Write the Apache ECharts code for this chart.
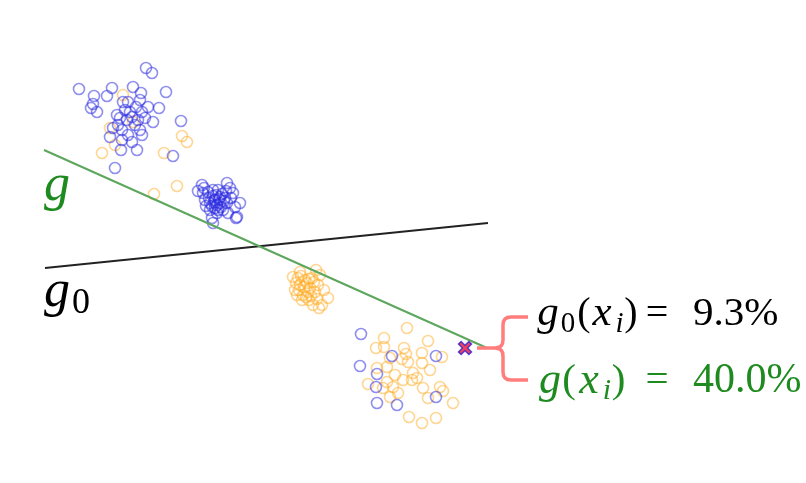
<!DOCTYPE html>
<html>
<head>
<meta charset="utf-8">
<script src="https://cdn.jsdelivr.net/npm/echarts@6/dist/echarts.min.js"></script>
<style>
  html, body { margin: 0; padding: 0; background: #fff; }
  #chart { width: 806px; height: 483px; }
</style>
</head>
<body>
<div id="chart"></div>
<script>
// points are kept in the picture's own frame: x to the right, y downward
const BLUE_PTS = [
  [79,89],[146,68],[152,73],[112,88],[133,87],[94,96],[107,96],[141,93],[166,92],
  [91,108],[93,104],[97,112],[123,102],[128,102],[140,100],[136,107],[148,107],[159,108],
  [117,115],[120,118],[132,117],[142,112],[153,122],[181,121],[113,128],[122,130],[140,130],
  [110,137],[122,140],[132,142],[142,135],[121,150],[137,150],[173,156],[115,168],
  [127,120],[135,125],[125,110],[130,112],[118,125],[138,120],[145,118],[128,135],
  [202,185],[227,183],[230,188],[233,193],[240,203],[237,217],[213,223],[205,200],[203,193],
  [220,197],[223,210],[210,210],[217,213],[212,218],[227,203],[215,200],[217,205],[213,196],
  [220,203],[218,190],[210,203],[222,194],[208,192],[225,198],[215,208],[198,191],[236,218],
  [214,202],[219,199],[212,206],[221,207],[216,195],[224,201],[209,198],[218,210],[206,206],
  [226,191],[231,198],[235,207],[204,188],[213,190],[228,213],
  [361,334],[360,366],[392,356],[436,356],[377,374],[376,387],[377,403],[397,405],[436,397]
];
const ORANGE_PTS = [
  [123,95],[110,128],[115,145],[102,153],[164,153],[182,136],[187,142],[133,122],[154,194],[177,186],
  [300,272],[320,275],[295,290],[313,305],[322,305],[328,298],[303,295],[307,283],[310,288],
  [305,280],[300,285],[312,278],[315,292],[298,278],[308,292],[318,285],[302,300],[296,283],
  [304,287],[309,279],[314,282],[299,290],[306,297],[311,296],[317,299],[324,290],[293,277],
  [316,270],[301,276],[309,300],[319,308],[297,295],
  [407,328],[384,338],[428,341],[376,348],[384,347],[404,348],[422,353],[442,357],[406,354],
  [402,359],[390,358],[387,367],[408,362],[422,363],[430,370],[377,368],[395,375],[413,373],
  [412,380],[403,380],[387,382],[368,384],[383,388],[393,387],[398,393],[423,388],[440,387],
  [443,391],[390,397],[428,398],[453,403],[409,417],[422,423],[436,418],[417,378]
];
const MARKED = [[465,348]];
const LINE_G = [[44,150],[487,348]];
const LINE_G0 = [[45,268],[488,223]];
// stem x, mid y, spine x, top y, bottom y, arm end x
const BRACE = [[477,348,503,317,380,528]];
const LABEL_G = [44,186];
const LABEL_G0 = [44,292];
const LABEL_1 = [538,314];
const LABEL_2 = [538,381];

const SERIF = '"Liberation Serif", serif';
const GREEN_TXT = "#1f8a1f";

const chart = echarts.init(document.getElementById("chart"), null, { renderer: "canvas" });

// math-ish rich styles; widths pin each glyph where the reference has it
function mathRich(size, w) {
  const lh = size + 10;
  const it = { fontFamily: SERIF, fontSize: size + 3, fontStyle: "italic", lineHeight: lh, align: "center" };
  const rm = { fontFamily: SERIF, fontSize: size, lineHeight: lh, align: "center" };
  const sub = { fontFamily: SERIF, fontSize: Math.round(size * 0.72), lineHeight: Math.round(size * 0.8), verticalAlign: "bottom", align: "center" };
  return {
    g: { ...it, width: w.g },
    s0: { ...sub, width: w.s0 },
    si: { ...sub, fontStyle: "italic", width: w.si },
    pl: { ...rm, width: w.pl },
    pr: { ...rm, width: w.pr },
    x: { ...it, width: w.x },
    eq: { ...rm, width: w.eq },
    num: { fontFamily: SERIF, fontSize: size + 1, lineHeight: lh, padding: [0, 0, 0, w.gap] }
  };
}

chart.setOption({
  animation: false,
  backgroundColor: "#fff",
  grid: { left: 0, right: 0, top: 0, bottom: 0 },
  xAxis: { type: "value", min: 0, max: 806, show: false },
  yAxis: { type: "value", min: 0, max: 483, inverse: true, show: false },
  series: [
    {
      type: "line", data: LINE_G0, symbol: "none",
      lineStyle: { color: "#222", width: 2 }, z: 1
    },
    {
      type: "line", data: LINE_G, symbol: "none",
      lineStyle: { color: "#5da65d", width: 2 }, z: 3
    },
    {
      type: "scatter", data: ORANGE_PTS, symbol: "circle", symbolSize: 11,
      itemStyle: { color: "rgba(0,0,0,0)", borderColor: "rgba(255,170,30,0.6)", borderWidth: 1.6 }, z: 2
    },
    {
      type: "scatter", data: BLUE_PTS, symbol: "circle", symbolSize: 11,
      itemStyle: { color: "rgba(0,0,0,0)", borderColor: "rgba(40,40,225,0.65)", borderWidth: 1.6 }, z: 2
    },
    {
      type: "scatter", data: MARKED, symbolSize: 13,
      symbol: "path://M2,0L5,3L8,0L10,2L7,5L10,8L8,10L5,7L2,10L0,8L3,5L0,2Z",
      itemStyle: { color: "#ee1133", borderColor: "#3322cc", borderWidth: 1.5 }, z: 4
    },
    {
      type: "custom", data: BRACE, z: 4,
      renderItem: (params, api) => {
        const s = api.coord([api.value(0), api.value(1)]);
        const top = api.coord([api.value(2), api.value(3)]);
        const bot = api.coord([api.value(2), api.value(4)]);
        const arm = api.coord([api.value(5), api.value(3)]);
        const sx = top[0], my = s[1], r = 8;
        const d =
          `M${s[0]},${my}L${sx - r},${my}Q${sx},${my} ${sx},${my - r}` +
          `L${sx},${top[1] + r}Q${sx},${top[1]} ${sx + r},${top[1]}L${arm[0]},${top[1]}` +
          `M${sx - r},${my}Q${sx},${my} ${sx},${my + r}` +
          `L${sx},${bot[1] - r}Q${sx},${bot[1]} ${sx + r},${bot[1]}L${arm[0]},${bot[1]}`;
        return {
          type: "path",
          shape: { pathData: d },
          style: { fill: null, stroke: "#ff7d7d", lineWidth: 3.5 }
        };
      }
    }
  ]
});

function txt(pos, text, color, richStyles) {
  const p = chart.convertToPixel({ gridIndex: 0 }, pos);
  return {
    type: "text", x: p[0], y: p[1], z: 10,
    style: { text, fill: color, fontFamily: SERIF, verticalAlign: "middle", align: "left", rich: richStyles }
  };
}

const bigRich = {
  g: { fontFamily: SERIF, fontSize: 52, fontStyle: "italic", lineHeight: 60 },
  s0: { fontFamily: SERIF, fontSize: 36, lineHeight: 40, verticalAlign: "bottom", padding: [0, 0, 0, 2] }
};

chart.setOption({
  graphic: [
    txt(LABEL_G, "{g|g}", GREEN_TXT, bigRich),
    txt(LABEL_G0, "{g|g}{s0|0}", "#000", bigRich),
    txt(LABEL_1, "{g|g}{s0|0}{pl|(}{x|x}{si|i}{pr|)}{eq|=}{num|9.3%}", "#000",
      mathRich(40, { g: 20, s0: 20, pl: 12, x: 24, si: 11, pr: 12, eq: 40, gap: 16 })),
    txt(LABEL_2, "{g|g}{pl|(}{x|x}{si|i}{pr|)}{eq|=}{num|40.0%}", GREEN_TXT,
      mathRich(41, { g: 24, s0: 0, pl: 14, x: 26, si: 10, pr: 13, eq: 64, gap: 4 }))
  ]
});
</script>
</body>
</html>
